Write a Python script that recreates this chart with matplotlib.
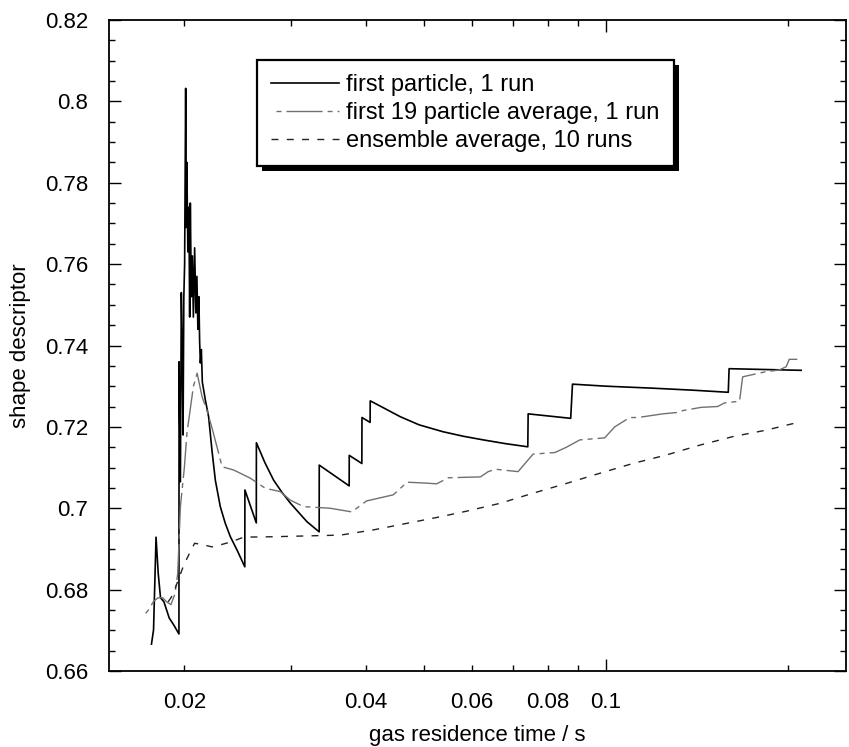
import matplotlib
matplotlib.use("Agg")
import matplotlib.pyplot as plt
from matplotlib.patches import Rectangle
from matplotlib.ticker import FixedLocator, FuncFormatter, MultipleLocator

plt.rcParams["font.family"] = ["Liberation Sans", "DejaVu Sans"]
plt.rcParams["font.size"] = 16
plt.rcParams["lines.scale_dashes"] = False

# first particle, 1 run
first_x = [0.01764, 0.01778, 0.01795, 0.01810, 0.01826, 0.01850, 0.01888, 0.01921,
           0.01959, 0.01960, 0.01970, 0.01977, 0.01983, 0.01990, 0.01996, 0.02002,
           0.02010, 0.02015, 0.02019, 0.02027, 0.02035, 0.02041, 0.02046, 0.02054,
           0.02062, 0.02070, 0.02080, 0.02090, 0.02098, 0.02106, 0.02114, 0.02120,
           0.02126, 0.02134, 0.02142, 0.02167, 0.02194, 0.02222, 0.02251, 0.02294,
           0.02338, 0.02384, 0.02446, 0.02519, 0.02520, 0.02632, 0.02633, 0.02720,
           0.02812, 0.02900, 0.02996, 0.03193, 0.03346, 0.03347, 0.03752, 0.03753,
           0.03938, 0.03940, 0.04064, 0.04066, 0.0430, 0.0456, 0.0490, 0.0537,
           0.0580, 0.0626, 0.0680, 0.0742, 0.0743, 0.0874, 0.0880,
           0.1000, 0.1200, 0.1400, 0.1595, 0.1600, 0.2107]
first_y = [0.6666, 0.6701, 0.6929, 0.6840, 0.6780, 0.6770, 0.6730, 0.6713,
           0.6691, 0.7360, 0.7065, 0.7530, 0.7410, 0.7180, 0.7520, 0.7600,
           0.8032, 0.7690, 0.7850, 0.7630, 0.7740, 0.7470, 0.7750, 0.7520,
           0.7620, 0.7470, 0.7640, 0.7480, 0.7570, 0.7440, 0.7520, 0.7410,
           0.7357, 0.7390, 0.7310, 0.7266, 0.7225, 0.7143, 0.7069, 0.7004,
           0.6963, 0.6930, 0.6897, 0.6856, 0.7045, 0.6964, 0.7161, 0.7112,
           0.7069, 0.7040, 0.7013, 0.6967, 0.6942, 0.7106, 0.7055, 0.7130,
           0.7110, 0.7223, 0.7211, 0.7264, 0.7245, 0.7225, 0.7205, 0.7188,
           0.7177, 0.7168, 0.7159, 0.7151, 0.7232, 0.7221, 0.7305,
           0.7300, 0.7295, 0.7290, 0.7285, 0.7343, 0.7339]

# first 19 particle average, 1 run
avg19_x = [0.01702, 0.0174, 0.0178, 0.0181, 0.0184, 0.0187, 0.0190, 0.0193, 0.0195,
           0.0197, 0.0200, 0.0202, 0.0207, 0.0210, 0.0214, 0.0218, 0.0222, 0.02265,
           0.0231, 0.02414, 0.02476, 0.02572, 0.02724, 0.02884, 0.02996, 0.03152,
           0.0349, 0.0379, 0.0401, 0.0444, 0.0468, 0.0501, 0.0524, 0.0548, 0.0619,
           0.0638, 0.0655, 0.0715, 0.0757, 0.0823, 0.0860, 0.0905, 0.0995, 0.1034,
           0.1095, 0.1130, 0.1242, 0.1325, 0.1340, 0.1439, 0.1531, 0.1573, 0.1665,
           0.1685, 0.1832, 0.1939, 0.1990, 0.2013, 0.2076]
avg19_y = [0.6733, 0.6748, 0.6772, 0.6780, 0.6780, 0.6770, 0.6763, 0.6790, 0.6840,
           0.7004, 0.7100, 0.7185, 0.7299, 0.7332, 0.7274, 0.7241, 0.7200, 0.7151,
           0.7102, 0.7094, 0.7086, 0.7074, 0.7049, 0.7041, 0.7020, 0.7004,
           0.7000, 0.6991, 0.7018, 0.7033, 0.7064, 0.7062, 0.7060, 0.7075, 0.7077,
           0.7090, 0.7096, 0.7090, 0.7133, 0.7137, 0.7150, 0.7168, 0.7173, 0.7200,
           0.7223, 0.7223, 0.7232, 0.7236, 0.7240, 0.7248, 0.7250, 0.7259, 0.7263,
           0.7323, 0.7335, 0.7340, 0.7348, 0.7366, 0.7366]

# ensemble average, 10 runs
ens_x = [0.0188, 0.0191, 0.0195, 0.01995, 0.02033, 0.0208, 0.02152, 0.02222, 0.02294,
         0.02399, 0.02508, 0.02812, 0.03193, 0.0363, 0.04122, 0.0468, 0.0531,
         0.0584, 0.0667, 0.0757, 0.0860, 0.0977, 0.1108, 0.1260, 0.1430, 0.1622,
         0.1844, 0.2107]
ens_y = [0.6770, 0.6785, 0.6820, 0.6860, 0.6885, 0.6914, 0.6910, 0.6905, 0.6910,
         0.6918, 0.6929, 0.6930, 0.6932, 0.6934, 0.6947, 0.6963, 0.6979,
         0.6992, 0.7012, 0.7037, 0.7061, 0.7086, 0.7110, 0.7131, 0.7155, 0.7176,
         0.7192, 0.7213]

labels = ["first particle, 1 run", "first 19 particle average, 1 run",
          "ensemble average, 10 runs"]

x_minor_ticks = [0.02, 0.03, 0.04, 0.05, 0.06, 0.07, 0.08, 0.09, 0.2]
x_major_ticks = [0.1]
x_tick_labels = {0.02: "0.02", 0.04: "0.04", 0.06: "0.06", 0.08: "0.08", 0.1: "0.1"}

fig = plt.figure(figsize=(8.49, 7.47), dpi=100)
ax = fig.add_axes([109 / 849, 76 / 747, 737 / 849, 651 / 747])

ax.plot(first_x, first_y, color="black", lw=1.2, label=labels[0])
ax.plot(avg19_x, avg19_y, color="#707070", lw=1.0,
        linestyle=(26, (26, 3.6, 3.6, 3.6)), label=labels[1])
ax.plot(ens_x, ens_y, color="#222222", lw=1.0, dashes=(5, 6), label=labels[2])

ax.set_xscale("log")
ax.set_xlim(0.015, 0.25)
ax.set_ylim(0.66, 0.82)

ax.xaxis.set_major_locator(FixedLocator(x_major_ticks))
ax.xaxis.set_minor_locator(FixedLocator(x_minor_ticks))
fmt = FuncFormatter(lambda v, p: x_tick_labels.get(round(v, 3), ""))
ax.xaxis.set_major_formatter(fmt)
ax.xaxis.set_minor_formatter(fmt)

ax.yaxis.set_major_locator(MultipleLocator(0.02))
ax.yaxis.set_minor_locator(MultipleLocator(0.005))
ax.yaxis.set_major_formatter(FuncFormatter(lambda v, p: f"{v:g}"))

ax.tick_params(which="both", direction="in", top=True, right=True,
               labelsize=16, pad=15, width=1)
ax.tick_params(which="major", length=8.5)
ax.tick_params(which="minor", length=4.5)
for s in ax.spines.values():
    s.set_linewidth(1.3)

ax.set_xlabel("gas residence time / s", fontsize=16, labelpad=9)
ax.set_ylabel("shape descriptor", fontsize=16, labelpad=10)

leg = ax.legend(loc="upper left", bbox_to_anchor=(0.2005, 0.9386), fontsize=17,
                frameon=True, fancybox=False, edgecolor="black", framealpha=1,
                borderpad=0.6, handlelength=2.9, handletextpad=0.3,
                labelspacing=0.25, borderaxespad=0)
leg.get_frame().set_linewidth(1.6)
leg.set_zorder(6)

# solid drop shadow behind the legend box
fig.canvas.draw()
bb = leg.get_window_extent().transformed(ax.transAxes.inverted())
dx = 5 / 737
dy = 5 / 651
ax.add_patch(Rectangle((bb.x0 + dx, bb.y0 - dy), bb.width, bb.height,
                       transform=ax.transAxes, facecolor="black",
                       edgecolor="none", zorder=5.5, clip_on=False))

fig.savefig("out.png", dpi=100)
